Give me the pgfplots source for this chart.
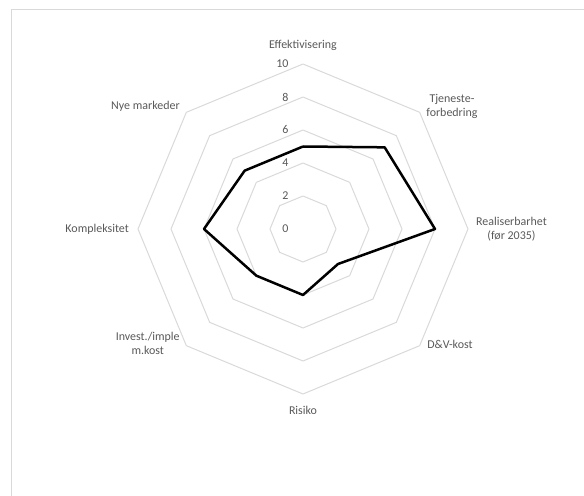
\documentclass[border=0pt]{standalone}
\usepackage{fontspec}
\setmainfont{Carlito}
\usepackage{pgfplots}
\usepgfplotslibrary{polar}
\pgfplotsset{compat=1.18}
\definecolor{gridgray}{RGB}{217,217,217}
\definecolor{textgray}{RGB}{89,89,89}

\begin{document}
\begin{tikzpicture}[font=\fontsize{12}{14}\selectfont]
\begin{polaraxis}[
    hide axis,
    scale only axis,
    width=330bp, height=330bp,
    ymin=0, ymax=10,
    clip=false,
]
    % octagon rings
    \pgfplotsinvokeforeach{2,4,6,8,10}{
        \addplot[gridgray, line width=1bp, no marks] coordinates
            {(90,#1) (45,#1) (0,#1) (-45,#1) (-90,#1) (-135,#1) (180,#1) (135,#1) (90,#1)};
    }
    % data
    \addplot[black, line width=2.5bp, no marks, line join=round] coordinates
        {(90,5) (45,7) (0,8) (-45,3) (-90,4) (-135,4) (180,6) (135,5) (90,5)};
    % value labels
    \pgfplotsinvokeforeach{0,2,4,6,8,10}{
        \node[textgray, anchor=east, xshift=-11bp] at (axis cs:90,#1) {#1};
    }
    % category labels
    \node[textgray] at (axis cs:90,11.1) {Effektivisering};
    \node[textgray, anchor=west, align=center, yshift=5bp, xshift=2bp] at (axis cs:45,10.1) {Tjeneste-\\forbedring};
    \node[textgray, anchor=west, align=center, xshift=3bp] at (axis cs:0,10.1) {Realiserbarhet\\(før 2035)};
    \node[textgray, anchor=west, yshift=2bp, xshift=3bp] at (axis cs:-45,10.1) {D\&V-kost};
    \node[textgray] at (axis cs:-90,11.0) {Risiko};
    \node[textgray, anchor=east, align=center, yshift=3bp, xshift=-2bp] at (axis cs:-135,10.1) {Invest./imple\\m.kost};
    \node[textgray, anchor=east, xshift=-4bp] at (axis cs:180,10.1) {Kompleksitet};
    \node[textgray, anchor=east, yshift=5bp, xshift=-2bp] at (axis cs:135,10.1) {Nye markeder};
    \coordinate (c) at (axis cs:0,0);
\end{polaraxis}
\pgfresetboundingbox
\path[use as bounding box] ([shift={(-303bp,-267bp)}]c) rectangle ([shift={(281bp,229bp)}]c);
\draw[gridgray, line width=1bp] ([shift={(-291bp,-267bp)}]c) -- ([shift={(-291bp,219bp)}]c) -- ([shift={(281bp,219bp)}]c);
\end{tikzpicture}
\end{document}
